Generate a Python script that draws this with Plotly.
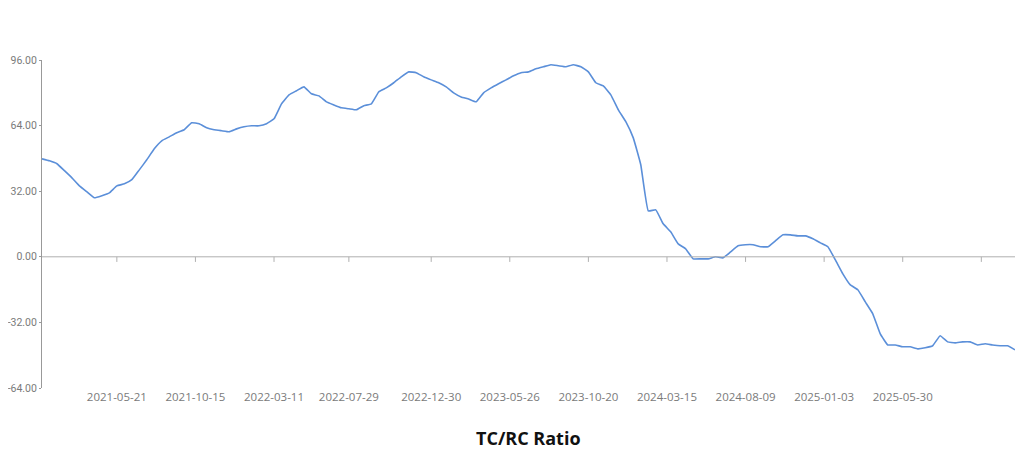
import pandas as pd
import plotly.graph_objects as go

# biweekly readings of the TC/RC ratio, starting 2021-01-01
ratio = [
    47.8, 46.8, 45.4, 42, 38.5, 34.6, 31.7, 28.8, 29.8, 31.2,
    34.6, 35.6, 37.6, 42.4, 47.3, 52.7, 56.6, 58.5, 60.5, 62,
    65.4, 64.9, 62.9, 62, 61.5, 61, 62.4, 63.4, 63.9, 63.9,
    64.9, 67.3, 74.6, 79, 81, 82.9, 79.5, 78.5, 75.6, 74.1,
    72.7, 72.2, 71.7, 73.7, 74.6, 80.5, 82.4, 84.9, 87.8, 90.2,
    89.8, 87.8, 86.3, 84.9, 82.9, 80, 78, 77, 75.6, 80,
    82.4, 84.4, 86.3, 88.3, 89.8, 90.2, 91.7, 92.7, 93.7, 93.2,
    92.7, 93.7, 92.7, 90.2, 84.9, 83.4, 79, 71.7, 65.9, 58,
    44.9, 22.4, 22.9, 16.1, 12.2, 6.3, 3.9, -1, -1, -1,
    0, -0.5, 2.4, 5.4, 5.9, 5.9, 4.9, 4.9, 7.8, 10.7,
    10.7, 10.2, 10.2, 8.8, 6.8, 4.9, -1.5, -8.3, -13.7, -16.1,
    -22, -27.8, -37.6, -43, -43, -43.9, -43.9, -44.9, -44.4, -43.4,
    -38.5, -41.5, -42, -41.5, -41.5, -43, -42.4, -43, -43.4, -43.4,
    -45.4,
]
dates = pd.date_range("2021-01-01", periods=len(ratio), freq="14D")
tick_dates = ["2021-05-21", "2021-10-15", "2022-03-11", "2022-07-29", "2022-12-30",
              "2023-05-26", "2023-10-20", "2024-03-15", "2024-08-09", "2025-01-03",
              "2025-05-30"]
tick_marks = tick_dates + ["2025-10-24"]
y_ticks = [-64, -32, 0, 32, 64, 96]

grey = "#7a7a7a"
fig = go.Figure()
fig.add_trace(go.Scatter(x=dates, y=ratio, mode="lines", line_shape="spline",
                         line=dict(color="#5b8fd9", width=1.6, smoothing=0.3),
                         hoverinfo="skip"))

# zero axis line with small ticks, like the original
fig.add_shape(type="line", xref="paper", x0=0, x1=1, y0=0, y1=0,
              line=dict(color="#b0b0b0", width=1))
for d in tick_marks:
    fig.add_shape(type="line", x0=d, x1=d, y0=0, y1=-2.5,
                  line=dict(color="#b0b0b0", width=1))

# page body has an 8px margin, so the figure is a bit smaller than the window
fig.update_layout(
    width=1008, height=451,
    margin=dict(l=34, r=1, t=52, b=71),
    paper_bgcolor="white", plot_bgcolor="white",
    showlegend=False,
    font=dict(family="Open Sans, DejaVu Sans", size=11, color=grey),
    xaxis=dict(range=[dates[0], dates[-1]], tickvals=tick_dates, ticktext=tick_dates,
               showgrid=False, showline=False, zeroline=False, ticks="",
               automargin=False, tickfont=dict(size=11.5, color=grey)),
    yaxis=dict(range=[-64, 96], tickvals=y_ticks,
               ticktext=[f"{v:.2f}" for v in y_ticks],
               showgrid=False, zeroline=False, showline=True, linecolor="#999",
               ticks="outside", ticklen=2, tickcolor="#999", automargin=False,
               tickfont=dict(family="Roboto", size=10.5, color=grey)),
    annotations=[dict(text="<b>TC/RC Ratio</b>", xref="paper", yref="paper",
                      x=0.5, y=-0.152, yanchor="middle", showarrow=False,
                      font=dict(size=18, color="#111"))],
)
fig.write_html("out.html")
